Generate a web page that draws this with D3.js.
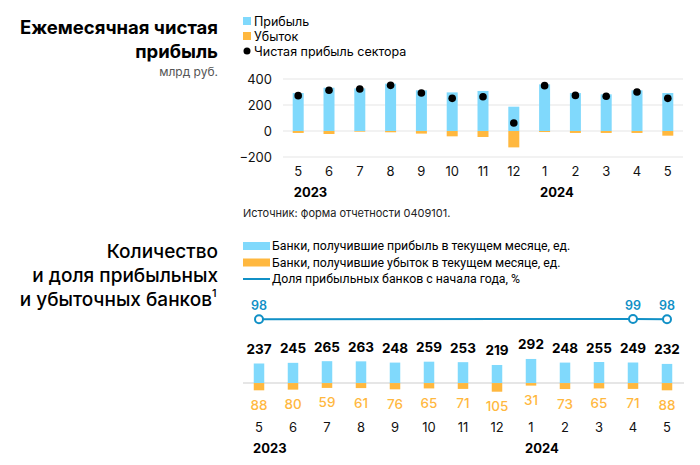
<!DOCTYPE html>
<html>
<head>
<meta charset="utf-8">
<script src="https://cdn.jsdelivr.net/npm/d3@7"></script>
<style>
  body { margin: 0; background: #fff; }
  svg { font-family: Inter, "Noto Sans", sans-serif; }
</style>
</head>
<body>
<div id="container"></div>
<script>
var w = 700, h = 465;

// data
var months = ["5", "6", "7", "8", "9", "10", "11", "12", "1", "2", "3", "4", "5"];
var years = [{ i: 0, label: "2023" }, { i: 8, label: "2024" }];
var profit = [292, 333, 328, 364, 313, 297, 308, 187, 359, 292, 282, 313, 292];
var loss = [-15, -23, -5, -10, -20, -41, -46, -126, -8, -15, -15, -15, -36];
var net = [272, 313, 323, 351, 292, 251, 264, 62, 349, 274, 267, 300, 251];
var yTicks = [400, 200, 0, -200];

var banksProfit = [237, 245, 265, 263, 248, 259, 253, 219, 292, 248, 255, 249, 232];
var banksLoss = [88, 80, 59, 61, 76, 65, 71, 105, 31, 73, 65, 71, 88];
var shareIdx = [0, 11, 12];
var shareVal = [98, 99, 98];

var cBlue = "#80d9fc", cOrange = "#ffb83f", cLine = "#1190c6", cGrid = "#e6e6e6";

var svg = d3.select("div#container")
    .append("svg")
    .attr("width", w)
    .attr("height", h)
    .attr("viewBox", "0 0 " + w + " " + h);

// ---------- top chart ----------
var t = svg.append("g");
t.append("text").attr("x", 218).attr("y", 34).attr("text-anchor", "end")
  .attr("font-size", 18.5).attr("font-weight", 700).text("Ежемесячная чистая");
t.append("text").attr("x", 218).attr("y", 58).attr("text-anchor", "end")
  .attr("font-size", 18.5).attr("font-weight", 700).text("прибыль");
t.append("text").attr("x", 218).attr("y", 76).attr("text-anchor", "end")
  .attr("font-size", 12).attr("fill", "#555").text("млрд руб.");

var leg1 = [
  { label: "Прибыль", type: "sq", color: cBlue },
  { label: "Убыток", type: "sq", color: cOrange },
  { label: "Чистая прибыль сектора", type: "dot", color: "#000" }
];
var lg = t.selectAll("g.leg1").data(leg1).enter().append("g")
  .attr("transform", (d, i) => "translate(243," + (22 + i * 15) + ")");
lg.filter(d => d.type == "sq").append("rect")
  .attr("x", 0).attr("y", -5).attr("width", 8).attr("height", 8).attr("fill", d => d.color);
lg.filter(d => d.type == "dot").append("circle")
  .attr("cx", 4).attr("cy", -1).attr("r", 3.5).attr("fill", d => d.color);
lg.append("text").attr("x", 11).attr("y", 4).attr("font-size", 12.5).text(d => d.label);

var x1 = d3.scaleBand().domain(d3.range(months.length)).range([283, 683]).paddingInner(0.643).paddingOuter(0.315);
var y1 = d3.scaleLinear().domain([-200, 400]).range([157, 79]);

t.append("g").selectAll("line").data(yTicks).enter().append("line")
  .attr("x1", 283).attr("x2", 683)
  .attr("y1", d => y1(d)).attr("y2", d => y1(d))
  .attr("stroke", cGrid).attr("stroke-width", 1.2);

var yAx = t.append("g").attr("transform", "translate(272,0)")
  .call(d3.axisLeft(y1).tickValues(yTicks).tickSize(0).tickPadding(0));
yAx.select(".domain").remove();
yAx.selectAll("text").attr("font-size", 13).attr("font-family", "Inter, sans-serif").attr("fill", "#111");

t.append("g").selectAll("rect").data(profit).enter().append("rect")
  .attr("x", (d, i) => x1(i)).attr("width", x1.bandwidth())
  .attr("y", d => y1(d)).attr("height", d => y1(0) - y1(d))
  .attr("fill", cBlue);
t.append("g").selectAll("rect").data(loss).enter().append("rect")
  .attr("x", (d, i) => x1(i)).attr("width", x1.bandwidth())
  .attr("y", y1(0)).attr("height", d => y1(d) - y1(0))
  .attr("fill", cOrange);
t.append("g").selectAll("circle").data(net).enter().append("circle")
  .attr("cx", (d, i) => x1(i) + x1.bandwidth() / 2).attr("cy", d => y1(d))
  .attr("r", 3.8).attr("fill", "#000");

var xAx = t.append("g").attr("transform", "translate(0,167)")
  .call(d3.axisBottom(x1).tickFormat(i => months[i]).tickSize(0).tickPadding(0));
xAx.select(".domain").remove();
xAx.selectAll("text").attr("font-size", 13).attr("font-family", "Inter, sans-serif").attr("fill", "#111");

t.append("g").selectAll("text").data(years).enter().append("text")
  .attr("x", d => x1(d.i) + 1).attr("y", 197)
  .attr("font-size", 13).attr("font-weight", 700).text(d => d.label);

t.append("text").attr("x", 243).attr("y", 217).attr("font-size", 11).attr("fill", "#222")
  .text("Источник: форма отчетности 0409101.");

// ---------- bottom chart ----------
var b = svg.append("g");
["Количество", "и доля прибыльных", "и убыточных банков"].forEach(function (s, i) {
  b.append("text").attr("x", i == 2 ? 212 : 218).attr("y", 258 + i * 24)
    .attr("text-anchor", "end").attr("font-size", 19).attr("font-weight", 500).text(s);
});
b.append("text").attr("x", 212).attr("y", 297).attr("font-size", 11).attr("font-weight", 500).text("1");

var leg2 = [
  { label: "Банки, получившие прибыль в текущем месяце, ед.", type: "bar", color: cBlue },
  { label: "Банки, получившие убыток в текущем месяце, ед.", type: "bar", color: cOrange },
  { label: "Доля прибыльных банков с начала года, %", type: "line", color: cLine }
];
var lg2 = b.selectAll("g.leg2").data(leg2).enter().append("g")
  .attr("transform", (d, i) => "translate(243," + (246 + i * 16.5) + ")");
lg2.filter(d => d.type == "bar").append("rect")
  .attr("x", 0).attr("y", -4).attr("width", 27).attr("height", 8).attr("fill", d => d.color);
lg2.filter(d => d.type == "line").append("line")
  .attr("x1", 0).attr("x2", 27).attr("y1", 0).attr("y2", 0)
  .attr("stroke", d => d.color).attr("stroke-width", 2);
lg2.append("text").attr("x", 29).attr("y", 4).attr("font-size", 12.3)
  .attr("font-family", "'Liberation Sans Narrow', 'Roboto', sans-serif").text(d => d.label);

var x2 = d3.scalePoint().domain(d3.range(months.length)).range([259, 667]);
var bw = 10.5;
var y2 = d3.scaleLinear().domain([-100, 300]).range([391.3, 358.3]);
// share of profitable banks: tight range keeps the line nearly flat, as in the source
var ys = d3.scaleLinear().domain([0, 100]).range([348.7, 318.7]);

b.append("line").attr("x1", 243).attr("x2", 684).attr("y1", y2(0)).attr("y2", y2(0))
  .attr("stroke", cGrid).attr("stroke-width", 2);

b.append("g").selectAll("rect").data(banksProfit).enter().append("rect")
  .attr("x", (d, i) => x2(i) - bw / 2).attr("width", bw)
  .attr("y", d => y2(d)).attr("height", d => y2(0) - y2(d))
  .attr("fill", cBlue);
b.append("g").selectAll("rect").data(banksLoss).enter().append("rect")
  .attr("x", (d, i) => x2(i) - bw / 2).attr("width", bw)
  .attr("y", y2(0)).attr("height", d => y2(-d) - y2(0))
  .attr("fill", cOrange);

b.append("g").selectAll("text").data(banksProfit).enter().append("text")
  .attr("x", (d, i) => x2(i)).attr("y", d => y2(d) - 9.5)
  .attr("text-anchor", "middle").attr("font-size", 13.5).attr("font-weight", 700).text(d => d);
b.append("g").selectAll("text").data(banksLoss).enter().append("text")
  .attr("x", (d, i) => x2(i)).attr("y", d => y2(-d) + 19.5)
  .attr("text-anchor", "middle").attr("font-size", 13.5).attr("font-weight", 500)
  .attr("fill", cOrange).text(d => d);

var line = d3.line().x((d, k) => x2(shareIdx[k])).y(d => ys(d));
b.append("path").datum(shareVal).attr("d", line)
  .attr("fill", "none").attr("stroke", cLine).attr("stroke-width", 2);
b.append("g").selectAll("circle").data(shareVal).enter().append("circle")
  .attr("cx", (d, k) => x2(shareIdx[k])).attr("cy", d => ys(d))
  .attr("r", 4).attr("fill", "#fff").attr("stroke", cLine).attr("stroke-width", 2);
b.append("g").selectAll("text").data(shareVal).enter().append("text")
  .attr("x", (d, k) => x2(shareIdx[k])).attr("y", d => ys(d) - 9)
  .attr("text-anchor", "middle").attr("font-size", 12.5).attr("font-weight", 600)
  .attr("fill", cLine).text(d => d);

b.append("g").selectAll("text").data(months).enter().append("text")
  .attr("x", (d, i) => x2(i)).attr("y", 432)
  .attr("text-anchor", "middle").attr("font-size", 13).attr("fill", "#111").text(d => d);
b.append("g").selectAll("text").data(years).enter().append("text")
  .attr("x", d => x2(d.i) - 6).attr("y", 453)
  .attr("font-size", 13).attr("font-weight", 700).text(d => d.label);
</script>
</body>
</html>
